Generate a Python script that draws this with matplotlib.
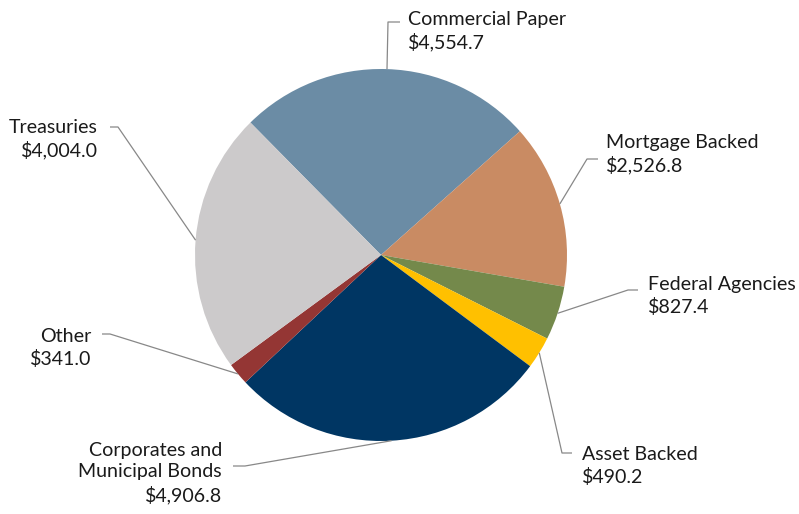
import numpy as np
import matplotlib.pyplot as plt

# holdings by asset type ($ millions), clockwise from the top
categories = ["Commercial Paper", "Mortgage Backed", "Federal Agencies", "Asset Backed",
              "Corporates and\nMunicipal Bonds", "Other", "Treasuries"]
values = [4554.7, 2526.8, 827.4, 490.2, 4906.8, 341.0, 4004.0]
colors = ["#6B8CA5", "#C98B63", "#74894B", "#FFC000", "#003663", "#943634", "#CCCACB"]

W, H = 799, 514
cx, cy, R = 381, 255, 186
start = 134.6

# label layout in pixel coords: (elbow, line end, text x, text y center, ha)
layout = [
    ((388, 22), (400, 22), 408, 31, "left"),
    ((587, 159), (598, 159), 606, 154, "left"),
    ((628, 290), (638, 290), 648, 296, "left"),
    ((562, 453), (572, 453), 582, 466, "left"),
    ((245, 466), (233, 466), 222, 473, "right"),
    ((110, 334), (102, 334), 91, 348, "right"),
    ((118, 127), (110, 127), 98, 139, "right"),
]

plt.rcParams['font.family'] = ['Lato', 'DejaVu Sans']

fig = plt.figure(figsize=(W / 100, H / 100), dpi=100)
ax = fig.add_axes([0, 0, 1, 1])

wedges, _ = ax.pie(values, colors=colors, startangle=start, counterclock=False,
                   center=(cx, H - cy), radius=R, frame=True,
                   wedgeprops=dict(linewidth=0))
ax.set_xlim(0, W)
ax.set_ylim(0, H)
ax.set_aspect('equal')
ax.axis('off')

for w, name, val, (elbow, end, tx, ty, ha) in zip(wedges, categories, values, layout):
    mid = np.deg2rad((w.theta1 + w.theta2) / 2)
    ex = cx + R * np.cos(mid)
    ey = (H - cy) + R * np.sin(mid)
    ax.plot([ex, elbow[0], end[0]], [ey, H - elbow[1], H - end[1]],
            color="#888888", lw=0.9, solid_capstyle='butt')
    ax.text(tx, H - ty, f"{name}\n${val:,.1f}", ha=ha, va='center',
            multialignment=ha, fontsize=14.1, color="#1a1a1a", linespacing=1.32)

fig.savefig("out.png", dpi=100)
